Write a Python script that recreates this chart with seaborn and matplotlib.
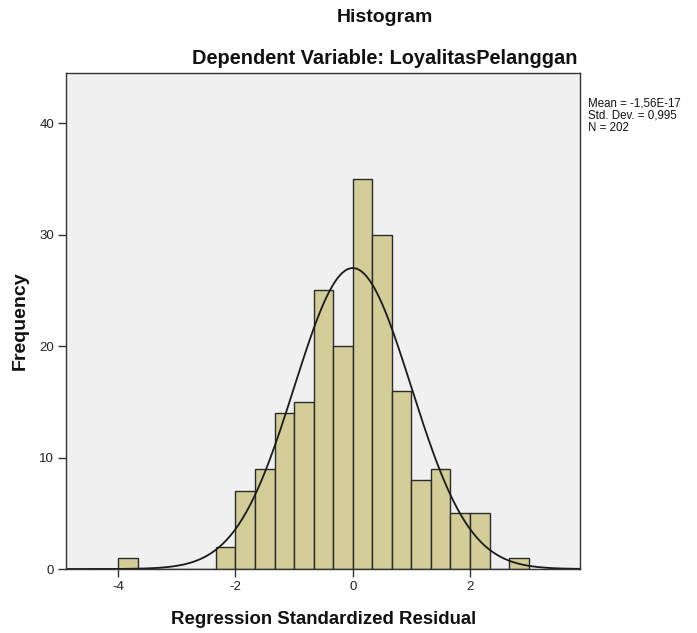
"""
SPSS-style residual histogram with a fitted normal curve.
"""

import numpy as np
import pandas as pd
import matplotlib
matplotlib.use('Agg')
import matplotlib.pyplot as plt
import seaborn as sns

# Histogram data (bins of width 1/3, starting at -4)
bin_start = -4.0
bin_width = 1 / 3
counts = [1, 0, 0, 0, 0, 2, 7, 9, 14, 15, 25, 20, 35, 30, 16, 8, 9, 5, 5, 0, 1]

# Summary stats printed on the chart
mean_val = -1.56e-17
std_val = 0.995
n_obs = 202
stats_lines = ["Mean = -1,56E-17", "Std. Dev. = 0,995", "N = 202"]

x_ticks = [-4, -2, 0, 2]
y_ticks = [0, 10, 20, 30, 40]

sns.set_theme(style='white')
plt.rcParams['font.family'] = ['Liberation Sans', 'DejaVu Sans']
plt.rcParams['axes.unicode_minus'] = False

W, H = 697, 633
fig = plt.figure(figsize=(W / 100, H / 100), dpi=100)
fig.patch.set_facecolor('white')
ax = fig.add_axes([66 / W, 1 - 569 / H, (580 - 66) / W, (569 - 73) / H])
ax.set_facecolor('#f0f0f0')

edges = bin_start + bin_width * np.arange(len(counts) + 1)
df = pd.DataFrame({'center': (edges[:-1] + edges[1:]) / 2, 'count': counts})
sns.histplot(data=df, x='center', weights='count', bins=list(edges), ax=ax,
             color='#d2cd99', edgecolor='#2b2b2b', linewidth=1.0, alpha=1)

# normal curve from the stated mean/sd, scaled to counts
xs = np.linspace(-4.9, 3.9, 400)
ys = n_obs * bin_width * np.exp(-0.5 * ((xs - mean_val) / std_val) ** 2) / (std_val * np.sqrt(2 * np.pi))
sns.lineplot(x=xs, y=ys, ax=ax, color='#1a1a1a', linewidth=1.3)

ax.set_xlim(-4.89, 3.875)
ax.set_ylim(0, 44.5)
ax.set_xticks(x_ticks)
ax.set_yticks(y_ticks)
ax.tick_params(axis='both', direction='out', length=6, width=1, color='#333333',
               labelsize=9.5, labelcolor='#222222', bottom=True, left=True, pad=2.5)
for s in ax.spines.values():
    s.set_color('#333333')
    s.set_linewidth(1.0)
ax.set_xlabel('')
ax.set_ylabel('')

fig.text(20 / W, 1 - 321 / H, 'Frequency', rotation=90, ha='center', va='center',
         fontsize=14, fontweight='bold', color='#111111')
fig.text(324 / W, 1 - 620 / H, 'Regression Standardized Residual', ha='center', va='center',
         fontsize=13.4, fontweight='bold', color='#111111')
fig.text(385 / W, 1 - 18 / H, 'Histogram', ha='center', va='center',
         fontsize=14, fontweight='bold', color='#111111')
fig.text(385 / W, 1 - 58 / H, 'Dependent Variable: LoyalitasPelanggan', ha='center', va='center',
         fontsize=14.4, fontweight='bold', color='#111111')
fig.text(588 / W, 1 - 98 / H, '\n'.join(stats_lines), ha='left', va='top',
         fontsize=8.3, color='#111111', linespacing=1.0)

fig.savefig('out.png', dpi=100, facecolor='white')
